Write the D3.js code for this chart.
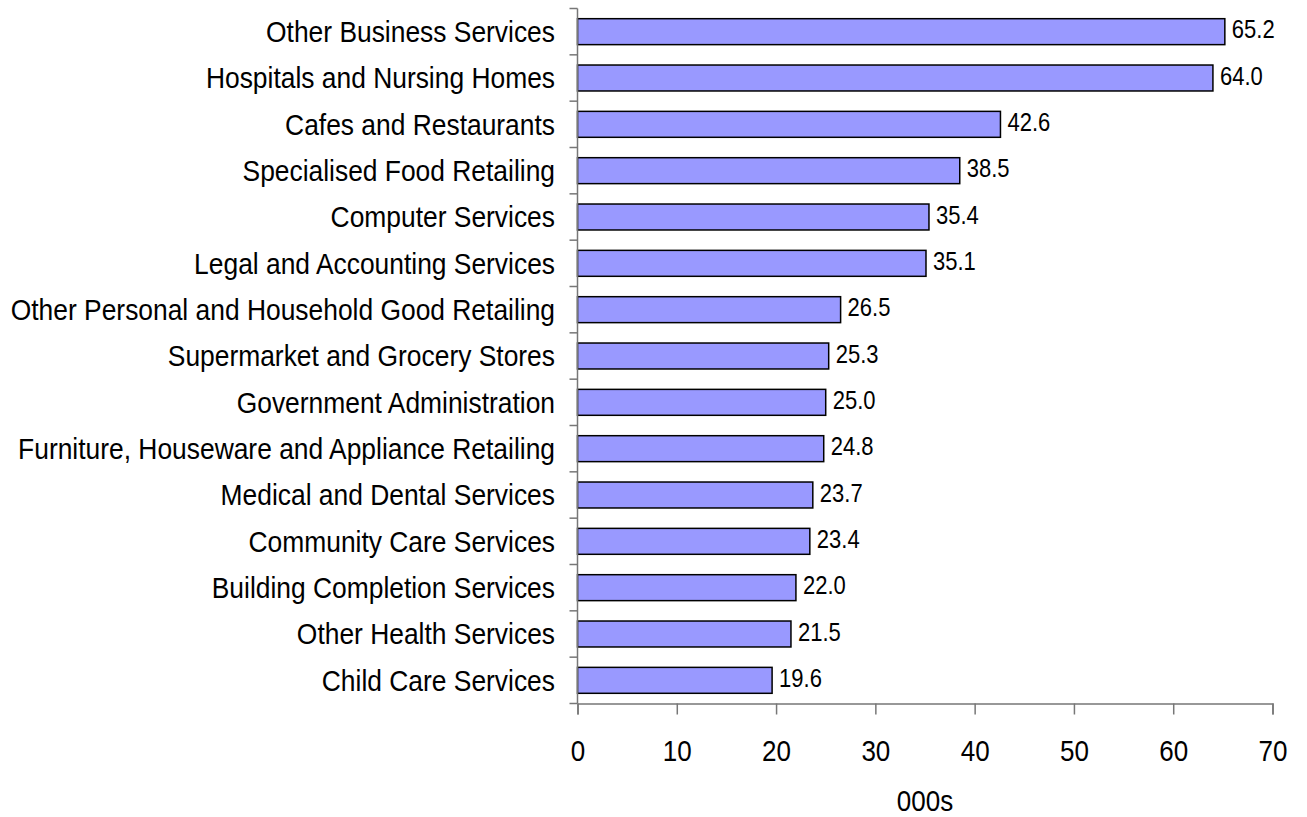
<!DOCTYPE html>
<html>
<head>
<meta charset="utf-8">
<script src="https://cdn.jsdelivr.net/npm/d3@7"></script>
<style>
  html, body { margin: 0; padding: 0; background: #fff; }
  svg { display: block; font-family: "Liberation Sans", Arial, sans-serif; }
</style>
</head>
<body>
<svg id="chart" width="1307" height="817"></svg>
<script>
// Employment by industry (thousands), largest first
const categories = [
  "Other Business Services",
  "Hospitals and Nursing Homes",
  "Cafes and Restaurants",
  "Specialised Food Retailing",
  "Computer Services",
  "Legal and Accounting Services",
  "Other Personal and Household Good Retailing",
  "Supermarket and Grocery Stores",
  "Government Administration",
  "Furniture, Houseware and Appliance Retailing",
  "Medical and Dental Services",
  "Community Care Services",
  "Building Completion Services",
  "Other Health Services",
  "Child Care Services"
];
const values = [65.2, 64.0, 42.6, 38.5, 35.4, 35.1, 26.5, 25.3, 25.0, 24.8, 23.7, 23.4, 22.0, 21.5, 19.6];
const xTicks = [0, 10, 20, 30, 40, 50, 60, 70];
const xTitle = "000s";

const svg = d3.select("#chart");
const plot = { left: 577.5, right: 1272.5, top: 8.5, bottom: 703.5 };
const stretch = 1.13; // glyphs are drawn slightly taller than wide

const x = d3.scaleLinear().domain([0, 70]).range([plot.left, plot.right]);
const y = d3.scaleBand().domain(categories).range([plot.top, plot.bottom])
  .paddingInner(0.44).paddingOuter(0.22);

const axisColor = "#777";

// place a text element at (px, py) with the vertical stretch applied
function placeText(sel, px, py) {
  sel.attr("x", 0).attr("y", 0)
    .attr("transform", (d, i) => `translate(${px(d, i)},${py(d, i)}) scale(1,${stretch})`);
}

// Bars
svg.append("g").selectAll("rect")
  .data(values)
  .join("rect")
  .attr("x", x(0))
  .attr("y", (d, i) => y(categories[i]))
  .attr("width", d => x(d) - x(0))
  .attr("height", y.bandwidth())
  .attr("fill", "#9999ff")
  .attr("stroke", "#000")
  .attr("stroke-width", 1.5);

// Value labels at bar ends
svg.append("g").selectAll("text")
  .data(values)
  .join("text")
  .call(placeText, d => x(d) + 7, (d, i) => y(categories[i]) + y.bandwidth() / 2 - 2)
  .attr("dy", "0.35em")
  .attr("font-size", 22)
  .attr("fill", "#000")
  .text(d => d.toFixed(1));

// Category axis: ticks sit on band boundaries
const yAxis = svg.append("g");
yAxis.append("line")
  .attr("x1", plot.left).attr("x2", plot.left)
  .attr("y1", plot.top).attr("y2", plot.bottom)
  .attr("stroke", axisColor).attr("stroke-width", 1.5);
const step = y.step();
yAxis.selectAll("line.tick")
  .data(d3.range(categories.length + 1))
  .join("line")
  .attr("class", "tick")
  .attr("x1", plot.left - 8).attr("x2", plot.left)
  .attr("y1", i => plot.top + i * step)
  .attr("y2", i => plot.top + i * step)
  .attr("stroke", axisColor).attr("stroke-width", 1.5);
yAxis.selectAll("text")
  .data(categories)
  .join("text")
  .call(placeText, () => plot.left - 22.5, d => y(d) + y.bandwidth() / 2)
  .attr("dy", "0.35em")
  .attr("text-anchor", "end")
  .attr("font-size", 26.4)
  .attr("fill", "#000")
  .text(d => d);

// Value axis
const xAxis = svg.append("g")
  .attr("transform", `translate(0,${plot.bottom})`)
  .call(d3.axisBottom(x).tickValues(xTicks).tickSize(11).tickPadding(0).tickFormat(d3.format("d")));
xAxis.select(".domain").attr("stroke", axisColor).attr("stroke-width", 1.5);
xAxis.selectAll(".tick line").attr("stroke", axisColor).attr("stroke-width", 1.5);
xAxis.selectAll(".tick text")
  .attr("x", 0).attr("y", 0).attr("dy", null)
  .attr("transform", `translate(0,57.5) scale(1,${stretch})`)
  .attr("font-size", 26)
  .attr("font-family", "Liberation Sans, Arial, sans-serif")
  .attr("fill", "#000");

svg.append("text")
  .attr("transform", `translate(${(plot.left + plot.right) / 2},811) scale(1,${stretch})`)
  .attr("text-anchor", "middle")
  .attr("font-size", 26)
  .attr("fill", "#000")
  .text(xTitle);
</script>
</body>
</html>
